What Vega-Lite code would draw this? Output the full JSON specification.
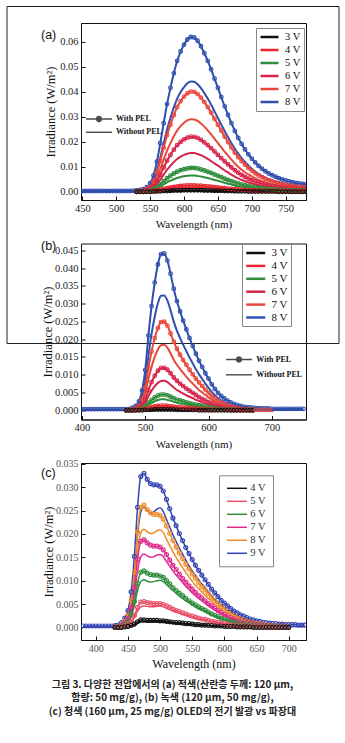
{
"$schema": "https://vega.github.io/schema/vega-lite/v6.json",
"background": "white",
"padding": {"left": 5, "top": 5, "right": 2, "bottom": 5},
"title": {"text": ["그림 3. 다양한 전압에서의 (a) 적색(산란층 두께: 120 μm,", "함량: 50 mg/g), (b) 녹색 (120 μm, 50 mg/g),", "(c) 청색 (160 μm, 25 mg/g) OLED의 전기 발광 vs 파장대"], "orient": "bottom", "anchor": "middle", "font": "Noto Sans CJK KR", "fontSize": 10, "fontWeight": "bold", "lineHeight": 13.5, "offset": 10, "color": "#222"},
"spacing": 43.5,
"bounds": "flush",
"resolve": {"scale": {"color": "independent", "shape": "independent", "stroke": "independent", "opacity": "independent"}, "legend": {"color": "independent", "shape": "independent", "stroke": "independent", "opacity": "independent"}},
"vconcat": [
 {"width": 225, "height": 177,
  "data": {"values": [
{"w":450,"a8":0.0003,"b8":0.0001},{"w":455,"a8":0.0003,"b8":0.0001},{"w":460,"a8":0.0003,"b8":0.0001},{"w":465,"a8":0.0003,"b8":0.0001},{"w":470,"a8":0.0003,"b8":0.0001},{"w":475,"a8":0.0003,"b8":0.0001},{"w":480,"a8":0.0003,"b8":0.0001},{"w":485,"a8":0.0003,"b8":0.0001},{"w":490,"a8":0.0003,"b8":0.0001},{"w":495,"a8":0.0003,"b8":0.0001},{"w":500,"a8":0.0003,"b8":0.0001},{"w":505,"a8":0.0003,"b8":0.0001},{"w":510,"a8":0.0003,"b8":0.0001},{"w":515,"a8":0.0003,"b8":0.0001},{"w":520,"a8":0.0003,"b8":0.0001},{"w":525,"a8":0.0004,"b8":0.0001},
{"w":530,"a8":0.0005,"b8":0.0001,"a7":0.0001,"b7":0.0001,"a6":0.0001,"b6":0,"a5":0,"b5":0,"a4":0,"b4":0,"a3":0,"b3":0},
{"w":535,"a8":0.0007,"b8":0.0003,"a7":0.0002,"b7":0.0002,"a6":0.0001,"b6":0.0001,"a5":0.0001,"b5":0,"a4":0,"b4":0,"a3":0,"b3":0},
{"w":540,"a8":0.001,"b8":0.0005,"a7":0.0005,"b7":0.0003,"a6":0.0003,"b6":0.0002,"a5":0.0001,"b5":0.0001,"a4":0,"b4":0,"a3":0,"b3":0},
{"w":545,"a8":0.0018,"b8":0.0011,"a7":0.001,"b7":0.0007,"a6":0.0006,"b6":0.0004,"a5":0.0002,"b5":0.0002,"a4":0.0001,"b4":0,"a3":0,"b3":0},
{"w":550,"a8":0.0034,"b8":0.0022,"a7":0.002,"b7":0.0015,"a6":0.0011,"b6":0.0008,"a5":0.0005,"b5":0.0003,"a4":0.0001,"b4":0.0001,"a3":0,"b3":0},
{"w":555,"a8":0.0065,"b8":0.0044,"a7":0.004,"b7":0.0029,"a6":0.0022,"b6":0.0016,"a5":0.001,"b5":0.0007,"a4":0.0003,"b4":0.0002,"a3":0.0001,"b3":0},
{"w":560,"a8":0.012,"b8":0.0084,"a7":0.0076,"b7":0.0055,"a6":0.0042,"b6":0.0029,"a5":0.0018,"b5":0.0012,"a4":0.0005,"b4":0.0003,"a3":0.0001,"b3":0.0001},
{"w":565,"a8":0.0194,"b8":0.0136,"a7":0.0124,"b7":0.009,"a6":0.0068,"b6":0.0048,"a5":0.0029,"b5":0.002,"a4":0.0008,"b4":0.0005,"a3":0.0002,"b3":0.0001},
{"w":570,"a8":0.0274,"b8":0.0194,"a7":0.0176,"b7":0.0128,"a6":0.0097,"b6":0.0068,"a5":0.0042,"b5":0.0029,"a4":0.0011,"b4":0.0007,"a3":0.0003,"b3":0.0001},
{"w":575,"a8":0.035,"b8":0.0249,"a7":0.0226,"b7":0.0164,"a6":0.0124,"b6":0.0088,"a5":0.0054,"b5":0.0037,"a4":0.0014,"b4":0.0009,"a3":0.0003,"b3":0.0002},
{"w":580,"a8":0.0415,"b8":0.0295,"a7":0.0268,"b7":0.0194,"a6":0.0147,"b6":0.0104,"a5":0.0064,"b5":0.0044,"a4":0.0017,"b4":0.0011,"a3":0.0004,"b3":0.0002},
{"w":585,"a8":0.0473,"b8":0.0337,"a7":0.0306,"b7":0.0222,"a6":0.0168,"b6":0.0119,"a5":0.0073,"b5":0.005,"a4":0.0019,"b4":0.0012,"a3":0.0005,"b3":0.0002},
{"w":590,"a8":0.0523,"b8":0.0372,"a7":0.0338,"b7":0.0245,"a6":0.0186,"b6":0.0131,"a5":0.008,"b5":0.0055,"a4":0.0021,"b4":0.0014,"a3":0.0005,"b3":0.0003},
{"w":595,"a8":0.056,"b8":0.0398,"a7":0.0362,"b7":0.0262,"a6":0.0199,"b6":0.014,"a5":0.0086,"b5":0.0059,"a4":0.0023,"b4":0.0014,"a3":0.0005,"b3":0.0003},
{"w":600,"a8":0.0587,"b8":0.0418,"a7":0.038,"b7":0.0276,"a6":0.0209,"b6":0.0147,"a5":0.009,"b5":0.0062,"a4":0.0024,"b4":0.0015,"a3":0.0006,"b3":0.0003},
{"w":605,"a8":0.0608,"b8":0.0433,"a7":0.0393,"b7":0.0285,"a6":0.0216,"b6":0.0152,"a5":0.0093,"b5":0.0064,"a4":0.0025,"b4":0.0016,"a3":0.0006,"b3":0.0003},
{"w":610,"a8":0.0618,"b8":0.044,"a7":0.04,"b7":0.029,"a6":0.022,"b6":0.0155,"a5":0.0095,"b5":0.0065,"a4":0.0025,"b4":0.0016,"a3":0.0006,"b3":0.0003},
{"w":615,"a8":0.0616,"b8":0.0439,"a7":0.0399,"b7":0.0289,"a6":0.0219,"b6":0.0155,"a5":0.0095,"b5":0.0065,"a4":0.0025,"b4":0.0016,"a3":0.0006,"b3":0.0003},
{"w":620,"a8":0.0603,"b8":0.0429,"a7":0.039,"b7":0.0283,"a6":0.0215,"b6":0.0151,"a5":0.0093,"b5":0.0063,"a4":0.0024,"b4":0.0016,"a3":0.0006,"b3":0.0003},
{"w":625,"a8":0.0581,"b8":0.0414,"a7":0.0376,"b7":0.0273,"a6":0.0207,"b6":0.0146,"a5":0.0089,"b5":0.0061,"a4":0.0024,"b4":0.0015,"a3":0.0006,"b3":0.0003},
{"w":630,"a8":0.0553,"b8":0.0394,"a7":0.0358,"b7":0.026,"a6":0.0197,"b6":0.0139,"a5":0.0085,"b5":0.0058,"a4":0.0022,"b4":0.0014,"a3":0.0005,"b3":0.0003},
{"w":635,"a8":0.0523,"b8":0.0372,"a7":0.0338,"b7":0.0245,"a6":0.0186,"b6":0.0131,"a5":0.008,"b5":0.0055,"a4":0.0021,"b4":0.0014,"a3":0.0005,"b3":0.0003},
{"w":640,"a8":0.0489,"b8":0.0348,"a7":0.0316,"b7":0.0229,"a6":0.0174,"b6":0.0122,"a5":0.0075,"b5":0.0051,"a4":0.002,"b4":0.0013,"a3":0.0005,"b3":0.0002},
{"w":645,"a8":0.0452,"b8":0.0321,"a7":0.0292,"b7":0.0212,"a6":0.0161,"b6":0.0113,"a5":0.0069,"b5":0.0047,"a4":0.0018,"b4":0.0012,"a3":0.0004,"b3":0.0002},
{"w":650,"a8":0.0415,"b8":0.0295,"a7":0.0268,"b7":0.0194,"a6":0.0147,"b6":0.0104,"a5":0.0064,"b5":0.0044,"a4":0.0017,"b4":0.0011,"a3":0.0004,"b3":0.0002},
{"w":655,"a8":0.0378,"b8":0.0268,"a7":0.0244,"b7":0.0177,"a6":0.0134,"b6":0.0095,"a5":0.0058,"b5":0.004,"a4":0.0015,"b4":0.001,"a3":0.0004,"b3":0.0002},
{"w":660,"a8":0.0341,"b8":0.0242,"a7":0.022,"b7":0.016,"a6":0.0121,"b6":0.0085,"a5":0.0052,"b5":0.0036,"a4":0.0014,"b4":0.0009,"a3":0.0003,"b3":0.0002},
{"w":665,"a8":0.0307,"b8":0.0218,"a7":0.0198,"b7":0.0144,"a6":0.0109,"b6":0.0077,"a5":0.0047,"b5":0.0032,"a4":0.0012,"b4":0.0008,"a3":0.0003,"b3":0.0001},
{"w":670,"a8":0.0274,"b8":0.0194,"a7":0.0176,"b7":0.0128,"a6":0.0097,"b6":0.0068,"a5":0.0042,"b5":0.0029,"a4":0.0011,"b4":0.0007,"a3":0.0003,"b3":0.0001},
{"w":675,"a8":0.0243,"b8":0.0172,"a7":0.0156,"b7":0.0113,"a6":0.0086,"b6":0.006,"a5":0.0037,"b5":0.0025,"a4":0.001,"b4":0.0006,"a3":0.0002,"b3":0.0001},
{"w":680,"a8":0.0215,"b8":0.0152,"a7":0.0138,"b7":0.01,"a6":0.0076,"b6":0.0053,"a5":0.0033,"b5":0.0022,"a4":0.0009,"b4":0.0006,"a3":0.0002,"b3":0.0001},
{"w":685,"a8":0.0191,"b8":0.0134,"a7":0.0122,"b7":0.0088,"a6":0.0067,"b6":0.0047,"a5":0.0029,"b5":0.002,"a4":0.0008,"b4":0.0005,"a3":0.0002,"b3":0.0001},
{"w":690,"a8":0.0169,"b8":0.0119,"a7":0.0108,"b7":0.0078,"a6":0.0059,"b6":0.0042,"a5":0.0026,"b5":0.0018,"a4":0.0007,"b4":0.0004,"a3":0.0002,"b3":0.0001},
{"w":695,"a8":0.0149,"b8":0.0105,"a7":0.0095,"b7":0.0069,"a6":0.0052,"b6":0.0037,"a5":0.0023,"b5":0.0015,"a4":0.0006,"b4":0.0004,"a3":0.0001,"b3":0.0001},
{"w":700,"a8":0.0132,"b8":0.0092,"a7":0.0084,"b7":0.0061,"a6":0.0046,"b6":0.0033,"a5":0.002,"b5":0.0014,"a4":0.0005,"b4":0.0003,"a3":0.0001,"b3":0.0001},
{"w":705,"a8":0.0117,"b8":0.0081,"a7":0.0074,"b7":0.0054,"a6":0.0041,"b6":0.0029,"a5":0.0018,"b5":0.0012,"a4":0.0005,"b4":0.0003,"a3":0.0001,"b3":0},
{"w":710,"a8":0.0103,"b8":0.0072,"a7":0.0065,"b7":0.0047,"a6":0.0036,"b6":0.0025,"a5":0.0015,"b5":0.0011,"a4":0.0004,"b4":0.0003,"a3":0.0001,"b3":0},
{"w":715,"a8":0.0092,"b8":0.0063,"a7":0.0058,"b7":0.0042,"a6":0.0032,"b6":0.0022,"a5":0.0014,"b5":0.0009,"a4":0.0004,"b4":0.0002,"a3":0.0001,"b3":0},
{"w":720,"a8":0.0082,"b8":0.0056,"a7":0.0051,"b7":0.0037,"a6":0.0028,"b6":0.002,"a5":0.0012,"b5":0.0008,"a4":0.0003,"b4":0.0002,"a3":0.0001,"b3":0},
{"w":725,"a8":0.0073,"b8":0.005,"a7":0.0046,"b7":0.0033,"a6":0.0025,"b6":0.0018,"a5":0.0011,"b5":0.0007,"a4":0.0003,"b4":0.0002,"a3":0.0001,"b3":0},
{"w":730,"a8":0.0066,"b8":0.0045,"a7":0.0041,"b7":0.003,"a6":0.0022,"b6":0.0016,"a5":0.001,"b5":0.0007,"a4":0.0003,"b4":0.0002,"a3":0.0001,"b3":0},
{"w":735,"a8":0.006,"b8":0.004,"a7":0.0037,"b7":0.0027,"a6":0.002,"b6":0.0014,"a5":0.0009,"b5":0.0006,"a4":0.0002,"b4":0.0001,"a3":0.0001,"b3":0},
{"w":740,"a8":0.0054,"b8":0.0037,"a7":0.0033,"b7":0.0024,"a6":0.0018,"b6":0.0013,"a5":0.0008,"b5":0.0005,"a4":0.0002,"b4":0.0001,"a3":0,"b3":0},
{"w":745,"a8":0.0049,"b8":0.0033,"a7":0.003,"b7":0.0022,"a6":0.0017,"b6":0.0012,"a5":0.0007,"b5":0.0005,"a4":0.0002,"b4":0.0001,"a3":0,"b3":0},
{"w":750,"a8":0.0045,"b8":0.003,"a7":0.0027,"b7":0.002,"a6":0.0015,"b6":0.0011,"a5":0.0006,"b5":0.0004,"a4":0.0002,"b4":0.0001,"a3":0,"b3":0},
{"w":755,"a8":0.0041,"b8":0.0027,"a7":0.0025,"b7":0.0018,"a6":0.0014,"b6":0.001,"a5":0.0006,"b5":0.0004,"a4":0.0002,"b4":0.0001,"a3":0,"b3":0},
{"w":760,"a8":0.0038,"b8":0.0025,"a7":0.0023,"b7":0.0017,"a6":0.0013,"b6":0.0009,"a5":0.0005,"b5":0.0004,"a4":0.0001,"b4":0.0001,"a3":0,"b3":0},
{"w":765,"a8":0.0035,"b8":0.0023,"a7":0.0021,"b7":0.0015,"a6":0.0011,"b6":0.0008,"a5":0.0005,"b5":0.0003,"a4":0.0001,"b4":0.0001,"a3":0,"b3":0},
{"w":770,"a8":0.0033,"b8":0.0021,"a7":0.0019,"b7":0.0014,"a6":0.0011,"b6":0.0007,"a5":0.0005,"b5":0.0003,"a4":0.0001,"b4":0.0001,"a3":0,"b3":0},
{"w":775,"a8":0.0031,"b8":0.002,"a7":0.0018,"b7":0.0013,"a6":0.001,"b6":0.0007,"a5":0.0004,"b5":0.0003,"a4":0.0001,"b4":0.0001,"a3":0,"b3":0},
{"w":780,"a8":0.0029,"b8":0.0018,"a7":0.0017,"b7":0.0012,"a6":0.0009,"b6":0.0007,"a5":0.0004,"b5":0.0003,"a4":0.0001,"b4":0.0001,"a3":0,"b3":0}
  ]},
  "layer": [
   {"transform": [{"fold": ["a8","b8","a7","b7","a6","b6","a5","b5","a4","b4","a3","b3"], "as": ["s","y"]}, {"filter": {"field": "y", "valid": true}}, {"lookup": "s", "from": {"data": {"values": [{"s":"a8","v":"8 V","p":"W"},{"s":"b8","v":"8 V","p":"N"},{"s":"a7","v":"7 V","p":"W"},{"s":"b7","v":"7 V","p":"N"},{"s":"a6","v":"6 V","p":"W"},{"s":"b6","v":"6 V","p":"N"},{"s":"a5","v":"5 V","p":"W"},{"s":"b5","v":"5 V","p":"N"},{"s":"a4","v":"4 V","p":"W"},{"s":"b4","v":"4 V","p":"N"},{"s":"a3","v":"3 V","p":"W"},{"s":"b3","v":"3 V","p":"N"}]}, "key": "s", "fields": ["v","p"]}}],
    "mark": {"type": "line", "strokeWidth": 2, "interpolate": "monotone", "clip": true},
    "encoding": {
     "x": {"field": "w", "type": "quantitative", "scale": {"domain": [448, 780], "nice": false, "zero": false}, "axis": {"values": [450,500,550,600,650,700,750], "tickCount": 30, "labelOverlap": false, "title": "Wavelength (nm)", "tickSize": -4, "labelPadding": 7, "labelFontSize": 10.5, "titleFontSize": 11, "titlePadding": 5}},
     "y": {"field": "y", "type": "quantitative", "scale": {"domain": [-0.0033, 0.0674], "nice": false, "zero": false}, "axis": {"values": [0,0.01,0.02,0.03,0.04,0.05,0.06], "tickCount": 30, "labelOverlap": false, "format": ".2f", "title": "Irradiance (W/m²)", "tickSize": -4, "labelPadding": 7, "labelFontSize": 10.5, "titleFontSize": 12.5, "titlePadding": 2}},
     "color": {"field": "v", "type": "nominal", "scale": {"domain": ["3 V","4 V","5 V","6 V","7 V","8 V"], "range": ["#111111","#e8262e","#2f8d3b","#d6244a","#e8483c","#2f4fae"]}, "legend": {"title": null, "orient": "none", "legendX": 175, "legendY": 5, "symbolType": "M-1,0H3", "symbolSize": 81, "symbolStrokeWidth": 2.5, "labelFont": "Liberation Serif", "labelFontSize": 10.5, "labelColor": "#111", "labelOffset": 14, "padding": 3, "rowPadding": 1, "strokeColor": "#888", "fillColor": "white"}},
     "detail": {"field": "s", "type": "nominal"}
    }},
   {"transform": [{"fold": ["a8","a7","a6","a5","a4","a3"], "as": ["s","y"]}, {"filter": {"field": "y", "valid": true}}, {"lookup": "s", "from": {"data": {"values": [{"s":"a8","v":"8 V"},{"s":"a7","v":"7 V"},{"s":"a6","v":"6 V"},{"s":"a5","v":"5 V"},{"s":"a4","v":"4 V"},{"s":"a3","v":"3 V"}]}, "key": "s", "fields": ["v"]}}],
    "mark": {"type": "point", "filled": false, "size": 14, "strokeWidth": 1.1, "opacity": 1, "clip": true},
    "encoding": {"x": {"field": "w", "type": "quantitative"}, "y": {"field": "y", "type": "quantitative"}, "color": {"field": "v", "type": "nominal"}}},
   {"data": {"values": []},
    "mark": {"type": "point", "filled": true, "color": "black"},
    "encoding": {"x": {"field": "w", "type": "quantitative"}, "y": {"field": "y", "type": "quantitative"},
     "shape": {"field": "p", "type": "nominal", "scale": {"domain": ["With PEL","Without PEL"], "range": ["M-3.25,-0.18H3.25V0.18H-3.25ZM-0.8,0A0.8,0.8,0,1,1,0.8,0A0.8,0.8,0,1,1,-0.8,0Z","M-3.25,-0.18H3.25V0.18H-3.25Z"]},
      "legend": {"title": null, "orient": "none", "legendX": 13, "legendY": 91, "symbolSize": 64, "symbolFillColor": "black", "labelFont": "Liberation Serif", "labelFontWeight": "bold", "labelFontSize": 8, "labelColor": "#111", "labelOffset": 12, "padding": 0, "rowPadding": 1.3}},
     "opacity": {"field": "lab", "type": "nominal", "scale": {"domain": ["(a)"], "range": [1]},
      "legend": {"title": null, "orient": "none", "legendX": -52.5, "legendY": 6, "symbolSize": 0, "symbolOpacity": 0, "labelOffset": 0, "labelFont": "Liberation Sans", "labelFontSize": 12.5, "labelColor": "#111", "padding": 0}}}},
   {"data": {"values": []},
    "mark": {"type": "point", "filled": false},
    "encoding": {"x": {"field": "w", "type": "quantitative"}, "y": {"field": "y", "type": "quantitative"},
     "stroke": {"field": "fr", "type": "nominal", "scale": {"domain": ["f1","f2"], "range": ["transparent","transparent"]},
      "legend": {"title": null, "orient": "none", "direction": "vertical", "columns": 1, "legendX": -74.5, "legendY": -17, "symbolType": "M0,0", "symbolSize": 110224, "symbolStrokeWidth": 0, "symbolOpacity": 0, "labelExpr": "''", "labelOffset": 0, "labelFontSize": 1, "padding": 0, "rowPadding": 5, "strokeColor": "#222"}}}}
  ]},
 {"width": 225, "height": 176,
  "data": {"values": [
{"w":400,"a8":0.0003,"b8":0.0001},{"w":405,"a8":0.0003,"b8":0.0001},{"w":410,"a8":0.0003,"b8":0.0001},{"w":415,"a8":0.0003,"b8":0.0001},{"w":420,"a8":0.0003,"b8":0.0001},{"w":425,"a8":0.0003,"b8":0.0001},{"w":430,"a8":0.0003,"b8":0.0001},{"w":435,"a8":0.0003,"b8":0.0001},{"w":440,"a8":0.0003,"b8":0.0001},{"w":445,"a8":0.0003,"b8":0.0001},{"w":450,"a8":0.0003,"b8":0.0001},{"w":455,"a8":0.0003,"b8":0.0001},{"w":460,"a8":0.0003,"b8":0.0001},{"w":465,"a8":0.0003,"b8":0.0001},
{"w":470,"a8":0.0003,"b8":0,"a7":0,"b7":0,"a6":0,"b6":0,"a5":0,"b5":0,"a4":0,"b4":0,"a3":0,"b3":0},
{"w":475,"a8":0.0004,"b8":0.0001,"a7":0.0001,"b7":0.0001,"a6":0,"b6":0,"a5":0,"b5":0,"a4":0,"b4":0,"a3":0,"b3":0},
{"w":480,"a8":0.0007,"b8":0.0003,"a7":0.0002,"b7":0.0001,"a6":0.0001,"b6":0,"a5":0,"b5":0,"a4":0,"b4":0,"a3":0,"b3":0},
{"w":485,"a8":0.0012,"b8":0.0007,"a7":0.0005,"b7":0.0004,"a6":0.0002,"b6":0.0002,"a5":0.0001,"b5":0,"a4":0,"b4":0,"a3":0,"b3":0},
{"w":490,"a8":0.0025,"b8":0.0016,"a7":0.0013,"b7":0.0009,"a6":0.0006,"b6":0.0004,"a5":0.0002,"b5":0.0002,"a4":0.0001,"b4":0,"a3":0,"b3":0},
{"w":495,"a8":0.0056,"b8":0.0039,"a7":0.003,"b7":0.0022,"a6":0.0014,"b6":0.001,"a5":0.0005,"b5":0.0004,"a4":0.0002,"b4":0.0001,"a3":0,"b3":0},
{"w":500,"a8":0.0113,"b8":0.0081,"a7":0.0063,"b7":0.0046,"a6":0.003,"b6":0.0021,"a5":0.0011,"b5":0.0008,"a4":0.0003,"b4":0.0002,"a3":0.0001,"b3":0},
{"w":505,"a8":0.021,"b8":0.0153,"a7":0.0118,"b7":0.0087,"a6":0.0056,"b6":0.0039,"a5":0.0021,"b5":0.0015,"a4":0.0006,"b4":0.0004,"a3":0.0001,"b3":0},
{"w":510,"a8":0.0293,"b8":0.0215,"a7":0.0165,"b7":0.0122,"a6":0.0079,"b6":0.0055,"a5":0.0029,"b5":0.002,"a4":0.0009,"b4":0.0005,"a3":0.0001,"b3":0.0001},
{"w":515,"a8":0.0359,"b8":0.0263,"a7":0.0203,"b7":0.015,"a6":0.0097,"b6":0.0067,"a5":0.0036,"b5":0.0025,"a4":0.0011,"b4":0.0006,"a3":0.0002,"b3":0.0001},
{"w":520,"a8":0.041,"b8":0.0301,"a7":0.0231,"b7":0.0171,"a6":0.0111,"b6":0.0077,"a5":0.0041,"b5":0.0029,"a4":0.0012,"b4":0.0007,"a3":0.0002,"b3":0.0001},
{"w":525,"a8":0.0439,"b8":0.0322,"a7":0.0248,"b7":0.0183,"a6":0.0119,"b6":0.0082,"a5":0.0044,"b5":0.0031,"a4":0.0013,"b4":0.0008,"a3":0.0002,"b3":0.0001},
{"w":530,"a8":0.0441,"b8":0.0323,"a7":0.0249,"b7":0.0184,"a6":0.0119,"b6":0.0083,"a5":0.0044,"b5":0.0031,"a4":0.0013,"b4":0.0008,"a3":0.0002,"b3":0.0001},
{"w":535,"a8":0.0421,"b8":0.0309,"a7":0.0238,"b7":0.0176,"a6":0.0114,"b6":0.0079,"a5":0.0042,"b5":0.0029,"a4":0.0012,"b4":0.0008,"a3":0.0002,"b3":0.0001},
{"w":540,"a8":0.0384,"b8":0.0281,"a7":0.0216,"b7":0.016,"a6":0.0104,"b6":0.0072,"a5":0.0038,"b5":0.0027,"a4":0.0011,"b4":0.0007,"a3":0.0002,"b3":0.0001},
{"w":545,"a8":0.0342,"b8":0.025,"a7":0.0193,"b7":0.0142,"a6":0.0092,"b6":0.0064,"a5":0.0034,"b5":0.0024,"a4":0.001,"b4":0.0006,"a3":0.0002,"b3":0.0001},
{"w":550,"a8":0.0307,"b8":0.0224,"a7":0.0173,"b7":0.0128,"a6":0.0083,"b6":0.0057,"a5":0.003,"b5":0.0021,"a4":0.0009,"b4":0.0006,"a3":0.0001,"b3":0.0001},
{"w":555,"a8":0.0278,"b8":0.0203,"a7":0.0156,"b7":0.0116,"a6":0.0075,"b6":0.0052,"a5":0.0028,"b5":0.0019,"a4":0.0008,"b4":0.0005,"a3":0.0001,"b3":0.0001},
{"w":560,"a8":0.0252,"b8":0.0184,"a7":0.0141,"b7":0.0105,"a6":0.0068,"b6":0.0047,"a5":0.0025,"b5":0.0018,"a4":0.0007,"b4":0.0005,"a3":0.0001,"b3":0},
{"w":565,"a8":0.0227,"b8":0.0166,"a7":0.0128,"b7":0.0094,"a6":0.0061,"b6":0.0042,"a5":0.0022,"b5":0.0016,"a4":0.0007,"b4":0.0004,"a3":0.0001,"b3":0},
{"w":570,"a8":0.0203,"b8":0.0148,"a7":0.0114,"b7":0.0084,"a6":0.0055,"b6":0.0038,"a5":0.002,"b5":0.0014,"a4":0.0006,"b4":0.0004,"a3":0.0001,"b3":0},
{"w":575,"a8":0.0181,"b8":0.0132,"a7":0.0101,"b7":0.0075,"a6":0.0049,"b6":0.0034,"a5":0.0018,"b5":0.0013,"a4":0.0005,"b4":0.0003,"a3":0.0001,"b3":0},
{"w":580,"a8":0.0159,"b8":0.0115,"a7":0.0089,"b7":0.0066,"a6":0.0043,"b6":0.0029,"a5":0.0016,"b5":0.0011,"a4":0.0005,"b4":0.0003,"a3":0.0001,"b3":0},
{"w":585,"a8":0.0139,"b8":0.0101,"a7":0.0078,"b7":0.0057,"a6":0.0037,"b6":0.0026,"a5":0.0014,"b5":0.001,"a4":0.0004,"b4":0.0002,"a3":0,"b3":0},
{"w":590,"a8":0.0122,"b8":0.0088,"a7":0.0068,"b7":0.005,"a6":0.0032,"b6":0.0022,"a5":0.0012,"b5":0.0008,"a4":0.0004,"b4":0.0002,"a3":0,"b3":0},
{"w":595,"a8":0.0104,"b8":0.0075,"a7":0.0058,"b7":0.0043,"a6":0.0028,"b6":0.0019,"a5":0.001,"b5":0.0007,"a4":0.0003,"b4":0.0002,"a3":0,"b3":0},
{"w":600,"a8":0.0089,"b8":0.0063,"a7":0.0049,"b7":0.0036,"a6":0.0023,"b6":0.0016,"a5":0.0009,"b5":0.0006,"a4":0.0003,"b4":0.0002,"a3":0,"b3":0},
{"w":605,"a8":0.0073,"b8":0.0052,"a7":0.004,"b7":0.003,"a6":0.0019,"b6":0.0013,"a5":0.0007,"b5":0.0005,"a4":0.0002,"b4":0.0001,"a3":0,"b3":0},
{"w":610,"a8":0.006,"b8":0.0042,"a7":0.0033,"b7":0.0024,"a6":0.0016,"b6":0.0011,"a5":0.0006,"b5":0.0004,"a4":0.0002,"b4":0.0001,"a3":0,"b3":0},
{"w":615,"a8":0.0049,"b8":0.0034,"a7":0.0026,"b7":0.0019,"a6":0.0013,"b6":0.0009,"a5":0.0005,"b5":0.0003,"a4":0.0001,"b4":0.0001,"a3":0,"b3":0},
{"w":620,"a8":0.004,"b8":0.0028,"a7":0.0021,"b7":0.0016,"a6":0.001,"b6":0.0007,"a5":0.0004,"b5":0.0003,"a4":0.0001,"b4":0.0001,"a3":0,"b3":0},
{"w":625,"a8":0.0033,"b8":0.0022,"a7":0.0017,"b7":0.0013,"a6":0.0008,"b6":0.0006,"a5":0.0003,"b5":0.0002,"a4":0.0001,"b4":0,"a3":0,"b3":0},
{"w":630,"a8":0.0027,"b8":0.0018,"a7":0.0014,"b7":0.001,"a6":0.0006,"b6":0.0004,"a5":0.0002,"b5":0.0002,"a4":0.0001,"b4":0,"a3":0,"b3":0},
{"w":635,"a8":0.0022,"b8":0.0014,"a7":0.0011,"b7":0.0008,"a6":0.0005,"b6":0.0004,"a5":0.0002,"b5":0.0001,"a4":0,"b4":0,"a3":0,"b3":0},
{"w":640,"a8":0.0018,"b8":0.0011,"a7":0.0009,"b7":0.0006,"a6":0.0004,"b6":0.0003,"a5":0.0002,"b5":0.0001,"a4":0,"b4":0,"a3":0,"b3":0},
{"w":645,"a8":0.0015,"b8":0.0009,"a7":0.0007,"b7":0.0005,"a6":0.0003,"b6":0.0002,"a5":0.0001,"b5":0.0001,"a4":0,"b4":0,"a3":0,"b3":0},
{"w":650,"a8":0.0012,"b8":0.0007,"a7":0.0005,"b7":0.0004,"a6":0.0003,"b6":0.0002,"a5":0.0001,"b5":0.0001,"a4":0,"b4":0,"a3":0,"b3":0},
{"w":655,"a8":0.001,"b8":0.0006,"a7":0.0004,"b7":0.0003,"a6":0.0002,"b6":0.0001,"a5":0.0001,"b5":0,"a4":0,"b4":0,"a3":0,"b3":0},
{"w":660,"a8":0.0009,"b8":0.0004,"a7":0.0003,"b7":0.0002,"a6":0.0002,"b6":0.0001,"a5":0.0001,"b5":0,"a4":0,"b4":0,"a3":0,"b3":0},
{"w":665,"a8":0.0008,"b8":0.0004,"a7":0.0003,"b7":0.0002,"a6":0.0001,"b6":0.0001,"a5":0,"b5":0,"a4":0,"b4":0,"a3":0,"b3":0},
{"w":670,"a8":0.0007,"b8":0.0003,"a7":0.0002,"b7":0.0002,"a6":0.0001,"b6":0.0001,"a5":0,"b5":0,"a4":0,"b4":0,"a3":0,"b3":0},
{"w":675,"a8":0.0006,"b8":0.0002,"a7":0.0001,"b7":0.0001},{"w":680,"a8":0.0006,"b8":0.0002,"a7":0.0001,"b7":0.0001},{"w":685,"a8":0.0005,"b8":0.0002,"a7":0.0001,"b7":0.0001},{"w":690,"a8":0.0005,"b8":0.0002,"a7":0.0001,"b7":0.0001},{"w":695,"a8":0.0005,"b8":0.0002,"a7":0.0001,"b7":0.0001},{"w":700,"a8":0.0004,"b8":0.0001,"a7":0.0001,"b7":0.0001},
{"w":705,"a8":0.0004,"b8":0.0001},{"w":710,"a8":0.0004,"b8":0.0001},{"w":715,"a8":0.0004,"b8":0.0001},{"w":720,"a8":0.0004,"b8":0.0001},{"w":725,"a8":0.0004,"b8":0.0001},{"w":730,"a8":0.0004,"b8":0.0001},{"w":735,"a8":0.0004,"b8":0.0001},{"w":740,"a8":0.0004,"b8":0.0001},{"w":745,"a8":0.0004,"b8":0.0001},{"w":750,"a8":0.0004,"b8":0.0001}
  ]},
  "layer": [
   {"transform": [{"fold": ["a8","b8","a7","b7","a6","b6","a5","b5","a4","b4","a3","b3"], "as": ["s","y"]}, {"filter": {"field": "y", "valid": true}}, {"lookup": "s", "from": {"data": {"values": [{"s":"a8","v":"8 V","p":"W"},{"s":"b8","v":"8 V","p":"N"},{"s":"a7","v":"7 V","p":"W"},{"s":"b7","v":"7 V","p":"N"},{"s":"a6","v":"6 V","p":"W"},{"s":"b6","v":"6 V","p":"N"},{"s":"a5","v":"5 V","p":"W"},{"s":"b5","v":"5 V","p":"N"},{"s":"a4","v":"4 V","p":"W"},{"s":"b4","v":"4 V","p":"N"},{"s":"a3","v":"3 V","p":"W"},{"s":"b3","v":"3 V","p":"N"}]}, "key": "s", "fields": ["v","p"]}}],
    "mark": {"type": "line", "strokeWidth": 2, "interpolate": "monotone", "clip": true},
    "encoding": {
     "x": {"field": "w", "type": "quantitative", "scale": {"domain": [398.5, 754], "nice": false, "zero": false}, "axis": {"values": [400,500,600,700], "tickCount": 30, "labelOverlap": false, "title": "Wavelength (nm)", "tickSize": -4, "labelPadding": 7, "labelFontSize": 10.5, "titleFontSize": 11, "titlePadding": 5}},
     "y": {"field": "y", "type": "quantitative", "scale": {"domain": [-0.0026, 0.0469], "nice": false, "zero": false}, "axis": {"values": [0,0.005,0.01,0.015,0.02,0.025,0.03,0.035,0.04,0.045], "tickCount": 30, "labelOverlap": false, "format": ".3f", "title": "Irradiance (W/m²)", "tickSize": -4, "labelPadding": 7, "labelFontSize": 10.5, "titleFontSize": 12.5, "titlePadding": 0}},
     "color": {"field": "v", "type": "nominal", "scale": {"domain": ["3 V","4 V","5 V","6 V","7 V","8 V"], "range": ["#111111","#e8262e","#2f8d3b","#d6244a","#e8483c","#2f4fae"]}, "legend": {"title": null, "orient": "none", "legendX": 161, "legendY": 0.5, "symbolType": "M-1,0H3", "symbolSize": 90, "symbolStrokeWidth": 2.5, "labelFont": "Liberation Serif", "labelFontSize": 11, "labelColor": "#111", "labelOffset": 14.5, "padding": 3, "rowPadding": 1.9, "strokeColor": "#888", "fillColor": "white"}},
     "detail": {"field": "s", "type": "nominal"}
    }},
   {"transform": [{"fold": ["a8","a7","a6","a5","a4","a3"], "as": ["s","y"]}, {"filter": {"field": "y", "valid": true}}, {"lookup": "s", "from": {"data": {"values": [{"s":"a8","v":"8 V"},{"s":"a7","v":"7 V"},{"s":"a6","v":"6 V"},{"s":"a5","v":"5 V"},{"s":"a4","v":"4 V"},{"s":"a3","v":"3 V"}]}, "key": "s", "fields": ["v"]}}],
    "mark": {"type": "point", "filled": false, "size": 14, "strokeWidth": 1.1, "opacity": 1, "clip": true},
    "encoding": {"x": {"field": "w", "type": "quantitative"}, "y": {"field": "y", "type": "quantitative"}, "color": {"field": "v", "type": "nominal"}}},
   {"data": {"values": []},
    "mark": {"type": "point", "filled": true, "color": "black"},
    "encoding": {"x": {"field": "w", "type": "quantitative"}, "y": {"field": "y", "type": "quantitative"},
     "shape": {"field": "p", "type": "nominal", "scale": {"domain": ["With PEL","Without PEL"], "range": ["M-3.25,-0.18H3.25V0.18H-3.25ZM-0.8,0A0.8,0.8,0,1,1,0.8,0A0.8,0.8,0,1,1,-0.8,0Z","M-3.25,-0.18H3.25V0.18H-3.25Z"]},
      "legend": {"title": null, "orient": "none", "legendX": 153, "legendY": 111, "symbolSize": 64, "symbolFillColor": "black", "labelFont": "Liberation Serif", "labelFontWeight": "bold", "labelFontSize": 8, "labelColor": "#111", "labelOffset": 12.3, "padding": 0, "rowPadding": 3.3}},
     "opacity": {"field": "lab", "type": "nominal", "scale": {"domain": ["(b)"], "range": [1]},
      "legend": {"title": null, "orient": "none", "legendX": -52.5, "legendY": -4, "symbolSize": 0, "symbolOpacity": 0, "labelOffset": 0, "labelFont": "Liberation Sans", "labelFontSize": 12.5, "labelColor": "#111", "padding": 0}}}}
  ]},
 {"width": 225, "height": 177,
  "data": {"values": [
{"w":380,"a9":0.0003,"b9":0.0001},{"w":385,"a9":0.0003,"b9":0.0001},{"w":390,"a9":0.0003,"b9":0.0001},{"w":395,"a9":0.0003,"b9":0.0001},{"w":400,"a9":0.0003,"b9":0.0001},{"w":405,"a9":0.0003,"b9":0.0001},{"w":410,"a9":0.0003,"b9":0.0001},{"w":415,"a9":0.0003,"b9":0.0001},{"w":420,"a9":0.0003,"b9":0.0001},{"w":425,"a9":0.0003,"b9":0.0001},
{"w":430,"a9":0.0004,"b9":0.0001,"a8":0.0001,"b8":0,"a7":0,"b7":0,"a6":0,"b6":0,"a5":0,"b5":0,"a4":0,"b4":0},
{"w":435,"a9":0.0005,"b9":0.0002,"a8":0.0002,"b8":0.0001,"a7":0.0001,"b7":0.0001,"a6":0,"b6":0,"a5":0,"b5":0,"a4":0,"b4":0},
{"w":440,"a9":0.001,"b9":0.0005,"a8":0.0005,"b8":0.0004,"a7":0.0004,"b7":0.0003,"a6":0.0002,"b6":0.0002,"a5":0.0001,"b5":0.0001,"a4":0,"b4":0},
{"w":445,"a9":0.002,"b9":0.0013,"a8":0.0013,"b8":0.0011,"a7":0.001,"b7":0.0008,"a6":0.0006,"b6":0.0005,"a5":0.0003,"b5":0.0002,"a4":0.0001,"b4":0.0001},
{"w":450,"a9":0.0036,"b9":0.0026,"a8":0.0027,"b8":0.0021,"a7":0.0019,"b7":0.0016,"a6":0.0012,"b6":0.001,"a5":0.0006,"b5":0.0005,"a4":0.0002,"b4":0.0001},
{"w":455,"a9":0.0076,"b9":0.0057,"a8":0.0058,"b8":0.0046,"a7":0.0042,"b7":0.0035,"a6":0.0027,"b6":0.0022,"a5":0.0012,"b5":0.001,"a4":0.0004,"b4":0.0003},
{"w":460,"a9":0.0152,"b9":0.0116,"a8":0.0119,"b8":0.0095,"a7":0.0086,"b7":0.0071,"a6":0.0055,"b6":0.0046,"a5":0.0025,"b5":0.0021,"a4":0.0007,"b4":0.0005},
{"w":465,"a9":0.0257,"b9":0.0198,"a8":0.0204,"b8":0.0162,"a7":0.0146,"b7":0.0121,"a6":0.0094,"b6":0.0079,"a5":0.0043,"b5":0.0035,"a4":0.0012,"b4":0.0009},
{"w":470,"a9":0.0323,"b9":0.0247,"a8":0.0257,"b8":0.0202,"a7":0.0184,"b7":0.0151,"a6":0.0118,"b6":0.0098,"a5":0.0054,"b5":0.0044,"a4":0.0016,"b4":0.0012},
{"w":475,"a9":0.033,"b9":0.0257,"a8":0.0262,"b8":0.021,"a7":0.0188,"b7":0.0157,"a6":0.0121,"b6":0.0102,"a5":0.0055,"b5":0.0046,"a4":0.0016,"b4":0.0012},
{"w":480,"a9":0.0317,"b9":0.0251,"a8":0.0252,"b8":0.0205,"a7":0.0181,"b7":0.0153,"a6":0.0116,"b6":0.0099,"a5":0.0053,"b5":0.0045,"a4":0.0015,"b4":0.0012},
{"w":485,"a9":0.0308,"b9":0.0245,"a8":0.0245,"b8":0.0201,"a7":0.0176,"b7":0.015,"a6":0.0113,"b6":0.0097,"a5":0.0052,"b5":0.0044,"a4":0.0015,"b4":0.0011},
{"w":490,"a9":0.0305,"b9":0.0247,"a8":0.0242,"b8":0.0202,"a7":0.0174,"b7":0.0151,"a6":0.0112,"b6":0.0098,"a5":0.0051,"b5":0.0044,"a4":0.0015,"b4":0.0012},
{"w":495,"a9":0.0305,"b9":0.0253,"a8":0.0242,"b8":0.0207,"a7":0.0174,"b7":0.0155,"a6":0.0112,"b6":0.01,"a5":0.0051,"b5":0.0045,"a4":0.0015,"b4":0.0012},
{"w":500,"a9":0.0302,"b9":0.0256,"a8":0.024,"b8":0.0209,"a7":0.0172,"b7":0.0156,"a6":0.011,"b6":0.0101,"a5":0.0051,"b5":0.0046,"a4":0.0014,"b4":0.0012},
{"w":505,"a9":0.0292,"b9":0.0248,"a8":0.0232,"b8":0.0203,"a7":0.0166,"b7":0.0152,"a6":0.0107,"b6":0.0098,"a5":0.0049,"b5":0.0044,"a4":0.0014,"b4":0.0012},
{"w":510,"a9":0.0274,"b9":0.0231,"a8":0.0217,"b8":0.0189,"a7":0.0156,"b7":0.0141,"a6":0.01,"b6":0.0092,"a5":0.0046,"b5":0.0041,"a4":0.0013,"b4":0.0011},
{"w":515,"a9":0.0254,"b9":0.0215,"a8":0.0201,"b8":0.0175,"a7":0.0144,"b7":0.0131,"a6":0.0093,"b6":0.0085,"a5":0.0043,"b5":0.0038,"a4":0.0012,"b4":0.001},
{"w":520,"a9":0.0234,"b9":0.0198,"a8":0.0186,"b8":0.0162,"a7":0.0133,"b7":0.0121,"a6":0.0085,"b6":0.0079,"a5":0.0039,"b5":0.0035,"a4":0.0011,"b4":0.0009},
{"w":525,"a9":0.0218,"b9":0.0184,"a8":0.0172,"b8":0.015,"a7":0.0124,"b7":0.0112,"a6":0.0079,"b6":0.0073,"a5":0.0036,"b5":0.0033,"a4":0.001,"b4":0.0009},
{"w":530,"a9":0.0201,"b9":0.017,"a8":0.0159,"b8":0.0139,"a7":0.0114,"b7":0.0104,"a6":0.0073,"b6":0.0067,"a5":0.0034,"b5":0.003,"a4":0.001,"b4":0.0008},
{"w":535,"a9":0.0186,"b9":0.0157,"a8":0.0147,"b8":0.0128,"a7":0.0105,"b7":0.0096,"a6":0.0068,"b6":0.0062,"a5":0.0031,"b5":0.0028,"a4":0.0009,"b4":0.0007},
{"w":540,"a9":0.0171,"b9":0.0144,"a8":0.0135,"b8":0.0118,"a7":0.0097,"b7":0.0088,"a6":0.0062,"b6":0.0057,"a5":0.0029,"b5":0.0026,"a4":0.0008,"b4":0.0007},
{"w":545,"a9":0.0158,"b9":0.0132,"a8":0.0125,"b8":0.0108,"a7":0.0089,"b7":0.0081,"a6":0.0057,"b6":0.0053,"a5":0.0026,"b5":0.0024,"a4":0.0008,"b4":0.0006},
{"w":550,"a9":0.0145,"b9":0.0121,"a8":0.0114,"b8":0.0099,"a7":0.0082,"b7":0.0074,"a6":0.0052,"b6":0.0048,"a5":0.0024,"b5":0.0022,"a4":0.0007,"b4":0.0006},
{"w":555,"a9":0.0133,"b9":0.0111,"a8":0.0105,"b8":0.009,"a7":0.0075,"b7":0.0068,"a6":0.0048,"b6":0.0044,"a5":0.0022,"b5":0.002,"a4":0.0006,"b4":0.0005},
{"w":560,"a9":0.0122,"b9":0.0102,"a8":0.0095,"b8":0.0083,"a7":0.0068,"b7":0.0062,"a6":0.0044,"b6":0.004,"a5":0.002,"b5":0.0018,"a4":0.0006,"b4":0.0005},
{"w":565,"a9":0.0112,"b9":0.0093,"a8":0.0087,"b8":0.0076,"a7":0.0063,"b7":0.0057,"a6":0.004,"b6":0.0037,"a5":0.0018,"b5":0.0017,"a4":0.0005,"b4":0.0004},
{"w":570,"a9":0.0102,"b9":0.0085,"a8":0.008,"b8":0.0069,"a7":0.0057,"b7":0.0052,"a6":0.0037,"b6":0.0034,"a5":0.0017,"b5":0.0015,"a4":0.0005,"b4":0.0004},
{"w":575,"a9":0.0092,"b9":0.0076,"a8":0.0072,"b8":0.0062,"a7":0.0051,"b7":0.0046,"a6":0.0033,"b6":0.003,"a5":0.0015,"b5":0.0014,"a4":0.0004,"b4":0.0004},
{"w":580,"a9":0.0082,"b9":0.0068,"a8":0.0064,"b8":0.0056,"a7":0.0046,"b7":0.0042,"a6":0.0029,"b6":0.0027,"a5":0.0013,"b5":0.0012,"a4":0.0004,"b4":0.0003},
{"w":585,"a9":0.0074,"b9":0.006,"a8":0.0057,"b8":0.0049,"a7":0.0041,"b7":0.0037,"a6":0.0026,"b6":0.0024,"a5":0.0012,"b5":0.0011,"a4":0.0003,"b4":0.0003},
{"w":590,"a9":0.0066,"b9":0.0054,"a8":0.005,"b8":0.0044,"a7":0.0036,"b7":0.0033,"a6":0.0023,"b6":0.0021,"a5":0.0011,"b5":0.001,"a4":0.0003,"b4":0.0003},
{"w":595,"a9":0.0058,"b9":0.0048,"a8":0.0045,"b8":0.0039,"a7":0.0032,"b7":0.0029,"a6":0.002,"b6":0.0019,"a5":0.0009,"b5":0.0009,"a4":0.0003,"b4":0.0002},
{"w":600,"a9":0.0052,"b9":0.0042,"a8":0.0039,"b8":0.0034,"a7":0.0028,"b7":0.0026,"a6":0.0018,"b6":0.0017,"a5":0.0008,"b5":0.0007,"a4":0.0002,"b4":0.0002},
{"w":605,"a9":0.0046,"b9":0.0037,"a8":0.0034,"b8":0.003,"a7":0.0025,"b7":0.0022,"a6":0.0016,"b6":0.0015,"a5":0.0007,"b5":0.0007,"a4":0.0002,"b4":0.0002},
{"w":610,"a9":0.004,"b9":0.0032,"a8":0.003,"b8":0.0026,"a7":0.0021,"b7":0.002,"a6":0.0014,"b6":0.0013,"a5":0.0006,"b5":0.0006,"a4":0.0002,"b4":0.0002},
{"w":615,"a9":0.0035,"b9":0.0028,"a8":0.0026,"b8":0.0023,"a7":0.0019,"b7":0.0017,"a6":0.0012,"b6":0.0011,"a5":0.0005,"b5":0.0005,"a4":0.0002,"b4":0.0001},
{"w":620,"a9":0.0031,"b9":0.0024,"a8":0.0023,"b8":0.002,"a7":0.0016,"b7":0.0015,"a6":0.001,"b6":0.0009,"a5":0.0005,"b5":0.0004,"a4":0.0001,"b4":0.0001},
{"w":625,"a9":0.0027,"b9":0.0021,"a8":0.0019,"b8":0.0017,"a7":0.0014,"b7":0.0013,"a6":0.0009,"b6":0.0008,"a5":0.0004,"b5":0.0004,"a4":0.0001,"b4":0.0001},
{"w":630,"a9":0.0024,"b9":0.0018,"a8":0.0017,"b8":0.0014,"a7":0.0012,"b7":0.0011,"a6":0.0008,"b6":0.0007,"a5":0.0004,"b5":0.0003,"a4":0.0001,"b4":0.0001},
{"w":635,"a9":0.0021,"b9":0.0015,"a8":0.0014,"b8":0.0012,"a7":0.001,"b7":0.0009,"a6":0.0007,"b6":0.0006,"a5":0.0003,"b5":0.0003,"a4":0.0001,"b4":0.0001},
{"w":640,"a9":0.0018,"b9":0.0013,"a8":0.0012,"b8":0.0011,"a7":0.0009,"b7":0.0008,"a6":0.0006,"b6":0.0005,"a5":0.0003,"b5":0.0002,"a4":0.0001,"b4":0},
{"w":645,"a9":0.0016,"b9":0.0011,"a8":0.0011,"b8":0.0009,"a7":0.0008,"b7":0.0007,"a6":0.0005,"b6":0.0004,"a5":0.0002,"b5":0.0002,"a4":0,"b4":0},
{"w":650,"a9":0.0014,"b9":0.001,"a8":0.0009,"b8":0.0008,"a7":0.0006,"b7":0.0006,"a6":0.0004,"b6":0.0004,"a5":0.0002,"b5":0.0002,"a4":0,"b4":0},
{"w":655,"a9":0.0013,"b9":0.0008,"a8":0.0008,"b8":0.0007,"a7":0.0006,"b7":0.0005,"a6":0.0004,"b6":0.0003,"a5":0.0002,"b5":0.0001,"a4":0,"b4":0},
{"w":660,"a9":0.0011,"b9":0.0007,"a8":0.0007,"b8":0.0006,"a7":0.0005,"b7":0.0004,"a6":0.0003,"b6":0.0003,"a5":0.0001,"b5":0.0001,"a4":0,"b4":0},
{"w":665,"a9":0.001,"b9":0.0006,"a8":0.0006,"b8":0.0005,"a7":0.0004,"b7":0.0004,"a6":0.0003,"b6":0.0002,"a5":0.0001,"b5":0.0001,"a4":0,"b4":0},
{"w":670,"a9":0.0009,"b9":0.0005,"a8":0.0005,"b8":0.0004,"a7":0.0003,"b7":0.0003,"a6":0.0002,"b6":0.0002,"a5":0.0001,"b5":0.0001,"a4":0,"b4":0},
{"w":675,"a9":0.0008,"b9":0.0004,"a8":0.0004,"b8":0.0004,"a7":0.0003,"b7":0.0003,"a6":0.0002,"b6":0.0002,"a5":0.0001,"b5":0.0001,"a4":0,"b4":0},
{"w":680,"a9":0.0008,"b9":0.0004,"a8":0.0004,"b8":0.0003,"a7":0.0002,"b7":0.0002,"a6":0.0002,"b6":0.0001,"a5":0.0001,"b5":0,"a4":0,"b4":0},
{"w":685,"a9":0.0007,"b9":0.0003,"a8":0.0003,"b8":0.0003,"a7":0.0002,"b7":0.0002,"a6":0.0001,"b6":0.0001,"a5":0,"b5":0,"a4":0,"b4":0},
{"w":690,"a9":0.0007,"b9":0.0003,"a8":0.0003,"b8":0.0002,"a7":0.0002,"b7":0.0002,"a6":0.0001,"b6":0.0001,"a5":0,"b5":0,"a4":0,"b4":0},
{"w":695,"a9":0.0006,"b9":0.0003,"a8":0.0003,"b8":0.0002,"a7":0.0002,"b7":0.0001,"a6":0.0001,"b6":0.0001,"a5":0,"b5":0,"a4":0,"b4":0},
{"w":700,"a9":0.0006,"b9":0.0003,"a8":0.0002,"b8":0.0002,"a7":0.0001,"b7":0.0001,"a6":0.0001,"b6":0.0001,"a5":0,"b5":0,"a4":0,"b4":0},
{"w":705,"a9":0.0006,"b9":0.0002},{"w":710,"a9":0.0006,"b9":0.0002},{"w":715,"a9":0.0005,"b9":0.0002},{"w":720,"a9":0.0005,"b9":0.0002},{"w":725,"a9":0.0005,"b9":0.0002}
  ]},
  "layer": [
   {"transform": [{"fold": ["a9","b9","a8","b8","a7","b7","a6","b6","a5","b5","a4","b4"], "as": ["s","y"]}, {"filter": {"field": "y", "valid": true}}, {"lookup": "s", "from": {"data": {"values": [{"s":"a9","v":"9 V","p":"W"},{"s":"b9","v":"9 V","p":"N"},{"s":"a8","v":"8 V","p":"W"},{"s":"b8","v":"8 V","p":"N"},{"s":"a7","v":"7 V","p":"W"},{"s":"b7","v":"7 V","p":"N"},{"s":"a6","v":"6 V","p":"W"},{"s":"b6","v":"6 V","p":"N"},{"s":"a5","v":"5 V","p":"W"},{"s":"b5","v":"5 V","p":"N"},{"s":"a4","v":"4 V","p":"W"},{"s":"b4","v":"4 V","p":"N"}]}, "key": "s", "fields": ["v","p"]}}],
    "mark": {"type": "line", "strokeWidth": 1.5, "interpolate": "monotone", "clip": true},
    "encoding": {
     "x": {"field": "w", "type": "quantitative", "scale": {"domain": [377, 727], "nice": false, "zero": false}, "axis": {"values": [400,450,500,550,600,650,700], "tickCount": 30, "labelOverlap": false, "title": "Wavelength (nm)", "tickSize": -4, "labelPadding": 7, "labelFontSize": 10, "labelColor": "#555", "titleFontSize": 12, "titlePadding": 5}},
     "y": {"field": "y", "type": "quantitative", "scale": {"domain": [-0.0027, 0.0352], "nice": false, "zero": false}, "axis": {"values": [0,0.005,0.01,0.015,0.02,0.025,0.03,0.035], "tickCount": 30, "labelOverlap": false, "format": ".3f", "title": "Irradiance (W/m²)", "tickSize": -4, "labelPadding": 7, "labelFontSize": 10, "labelColor": "#555", "titleFontSize": 12.5, "titlePadding": 0}},
     "color": {"field": "v", "type": "nominal", "scale": {"domain": ["4 V","5 V","6 V","7 V","8 V","9 V"], "range": ["#111111","#e8506a","#2f8d3b","#de2a8c","#f08c2a","#3344b4"]}, "legend": {"title": null, "orient": "none", "legendX": 138, "legendY": 12.3, "symbolType": "M-1,0H3", "symbolSize": 100, "symbolStrokeWidth": 1.5, "labelFont": "Liberation Serif", "labelFontSize": 10.5, "labelColor": "#333", "labelOffset": 12.3, "padding": 7, "rowPadding": 1, "strokeColor": "#888", "fillColor": "white"}},
     "detail": {"field": "s", "type": "nominal"}
    }},
   {"transform": [{"fold": ["a9","a8","a7","a6","a5","a4"], "as": ["s","y"]}, {"filter": {"field": "y", "valid": true}}, {"lookup": "s", "from": {"data": {"values": [{"s":"a9","v":"9 V"},{"s":"a8","v":"8 V"},{"s":"a7","v":"7 V"},{"s":"a6","v":"6 V"},{"s":"a5","v":"5 V"},{"s":"a4","v":"4 V"}]}, "key": "s", "fields": ["v"]}}],
    "mark": {"type": "point", "filled": false, "size": 16, "strokeWidth": 1.2, "opacity": 1, "clip": true},
    "encoding": {"x": {"field": "w", "type": "quantitative"}, "y": {"field": "y", "type": "quantitative"}, "color": {"field": "v", "type": "nominal"}}},
   {"data": {"values": []},
    "mark": {"type": "circle"},
    "encoding": {"x": {"field": "w", "type": "quantitative"}, "y": {"field": "y", "type": "quantitative"},
     "opacity": {"field": "lab", "type": "nominal", "scale": {"domain": ["(c)"], "range": [1]},
      "legend": {"title": null, "orient": "none", "legendX": -52.5, "legendY": 4, "symbolSize": 0, "symbolOpacity": 0, "labelOffset": 0, "labelFont": "Liberation Sans", "labelFontSize": 12.5, "labelColor": "#111", "padding": 0}}}}
  ]}
],
"config": {
 "view": {"stroke": "#111", "strokeWidth": 1},
 "font": "Liberation Serif",
 "axis": {"domainColor": "#111", "tickColor": "#111", "labelFont": "Liberation Serif", "titleFont": "Liberation Serif", "titleFontWeight": "normal", "labelColor": "#222", "titleColor": "#111", "grid": false, "labelFlush": false, "labelOverlap": false}
}
}
